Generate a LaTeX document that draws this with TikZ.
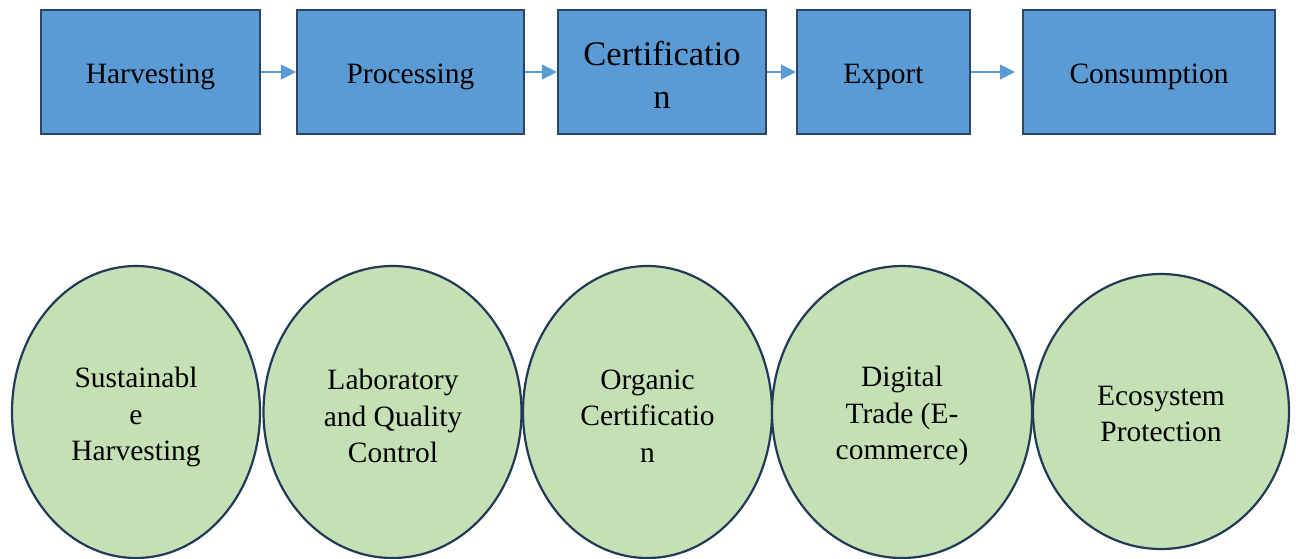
\documentclass[tikz,border=0pt]{standalone}
\usepackage{fontspec}
\setmainfont{Liberation Serif}
\usetikzlibrary{shapes.geometric,arrows.meta}
\definecolor{boxfill}{HTML}{5B9BD5}
\definecolor{boxline}{HTML}{2A4566}
\definecolor{ellfill}{HTML}{C5E0B4}
\definecolor{ellline}{HTML}{203A58}
\definecolor{arrowc}{HTML}{5B9BD5}
\begin{document}
\begin{tikzpicture}[x=1pt,y=-1pt,
  stagebox/.style={draw=boxline,fill=boxfill,line width=2.2pt,rectangle,inner sep=0pt,
    minimum height=124pt,align=center,font=\fontsize{29.5}{36}\selectfont},
  oneline/.style={text height=24pt,text depth=2pt},
  areaell/.style={draw=ellline,fill=ellfill,line width=2.2pt,ellipse,inner sep=0pt},
  elltext/.style={inner sep=0pt,align=center,font=\fontsize{29.5}{36.7}\selectfont},
  flowarrow/.style={draw=arrowc,line width=1.4pt,-{Triangle[length=15pt,width=15pt]}}]
\useasboundingbox (0,0) rectangle (1296,558);
% top row
\node[stagebox,oneline,minimum width=219pt] (harv) at (150.5,72) {Harvesting};
\node[stagebox,oneline,minimum width=227pt] (proc) at (410.5,72) {Processing};
\node[stagebox,minimum width=208pt] (cert) at (662,72) {};
\node[inner sep=0pt,align=center,font=\fontsize{34.5}{43}\selectfont] (certt) at (662,75) {Certificatio\\n};
\node[stagebox,oneline,minimum width=173pt] (expo) at (883.5,72) {Export};
\node[stagebox,oneline,minimum width=252pt] (cons) at (1149,72) {Consumption};
\draw[flowarrow] (harv.east) -- (proc.west);
\draw[flowarrow] (proc.east) -- (cert.west);
\draw[flowarrow] (cert.east) -- (expo.west);
\draw[flowarrow,shorten >=7pt] (expo.east) -- (cons.west);
% bottom row
\node[areaell,minimum width=248pt,minimum height=292pt] (e1) at (136,412) {};
\node[areaell,minimum width=258pt,minimum height=292pt] (e2) at (392.5,412) {};
\node[areaell,minimum width=249pt,minimum height=292pt] (e3) at (647.5,412) {};
\node[areaell,minimum width=260pt,minimum height=292pt] (e4) at (902,412) {};
\node[areaell,minimum width=256pt,minimum height=275pt] (e5) at (1161,411.5) {};
\node[elltext] (t1) at (136,417) {Sustainabl\\e\\Harvesting};
\node[elltext] (t2) at (393,416) {Laboratory\\and Quality\\Control};
\node[elltext] (t3) at (647.5,416) {Organic\\Certificatio\\n};
\node[elltext] (t4) at (902,416) {Digital\\Trade (E-\\commerce)};
\node[elltext] (t5) at (1161,414) {Ecosystem\\Protection};
\end{tikzpicture}
\end{document}
